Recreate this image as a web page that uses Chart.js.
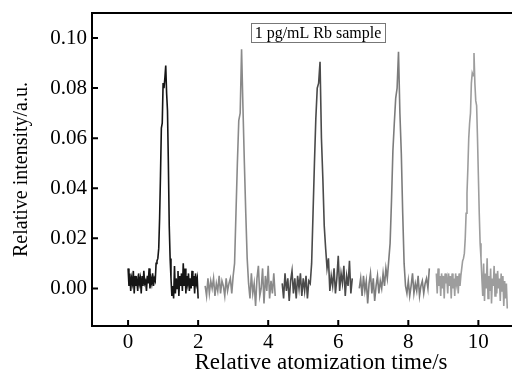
<!DOCTYPE html>
<html>
<head>
<meta charset="utf-8">
<script src="https://cdn.jsdelivr.net/npm/chart.js@4/dist/chart.umd.min.js"></script>
<style>
  body { margin: 0; background: #fff; }
  #wrap { position: relative; width: 512px; height: 376px; }
</style>
</head>
<body>
<div id="wrap"><canvas id="rbChart"></canvas></div>
<script>
// five successive atomization runs, each sampled on its own time grid
const segStart = [0, 2.2, 4.4, 6.6, 8.8];
const segStep = [0.025, 0.04, 0.04, 0.04, 0.025];
const segColors = ['#151515', '#8a8a8a', '#4a4a4a', '#7c7c7c', '#9d9d9d'];

const run1 = [
    0.008, 0.001, 0.006, -0.001, 0.004, 0.002, 0.007, -0.002, 0.005, 0.001,
    0.003, -0.001, 0.006, 0.002, 0.004, -0.002, 0.005, 0.001, 0.007, 0.002,
    0.003, -0.001, 0.005, 0.002, 0.008, 0.000, 0.004, 0.002, 0.006, 0.001,
    0.004, 0.003, 0.010, 0.011,
    0.012, 0.016, 0.028, 0.045, 0.064, 0.066, 0.082, 0.080, 0.084, 0.089,
    0.078, 0.071, 0.050, 0.025, 0.012, 0.004,
    -0.003, 0.001, -0.004, 0.009, -0.002, 0.004, 0.000, 0.007, -0.003, 0.005,
    0.001, 0.006, -0.001, 0.010, 0.001, 0.008, -0.002, 0.005, 0.002, 0.006,
    -0.001, 0.004, 0.000, 0.007, 0.001, 0.005, -0.002, 0.006, 0.002, 0.004, -0.004
];
const run2 = [
    0.001, -0.003, 0.004, -0.002, 0.003, 0.000, 0.004, -0.003, 0.002, -0.001,
    0.005, -0.002, 0.003, 0.001, -0.003, 0.004, -0.001, 0.002, 0.004, -0.002,
    0.005, 0.010, 0.030, 0.050, 0.067, 0.070, 0.0955, 0.072, 0.050, 0.030, 0.012, 0.002,
    -0.004, 0.006, -0.002, 0.002, -0.007, 0.004, 0.009, -0.003, 0.000, 0.008,
    -0.006, 0.005, -0.001, 0.009, -0.004, 0.003, -0.002, 0.006, -0.003
];
const run3 = [
    0.002, -0.004, 0.006, -0.001, 0.004, -0.005, 0.003, 0.007, -0.002, 0.004,
    -0.004, 0.005, 0.000, 0.006, -0.003, 0.004, -0.001, 0.005, -0.004, 0.003,
    0.002, 0.010, 0.030, 0.050, 0.068, 0.080, 0.082, 0.0905, 0.060, 0.044, 0.025, 0.016, 0.008,
    0.012, -0.001, 0.005, 0.001, 0.008, -0.002, 0.004, 0.013, -0.001, 0.006,
    0.002, 0.009, -0.003, 0.005, 0.001, 0.011, -0.002, 0.004
];
const run4 = [
    0.000, 0.004, -0.003, 0.005, -0.001, 0.003, -0.006, 0.002, 0.006, -0.002,
    0.004, -0.005, 0.001, 0.005, -0.002, 0.003, 0.000, 0.006, 0.001, 0.008,
    0.004, 0.011, 0.018, 0.035, 0.055, 0.066, 0.076, 0.080, 0.0945, 0.070, 0.054, 0.030, 0.010, 0.001,
    -0.002, 0.003, -0.003, 0.001, 0.006, -0.002, 0.002, -0.001, 0.005, -0.003,
    0.001, 0.003, -0.002, 0.002, 0.004, 0.000, 0.008
];
const run5 = [
    0.006, -0.002, 0.008, 0.001, 0.005, -0.003, 0.006, 0.000, 0.005, -0.004,
    0.006, 0.002, 0.004, -0.002, 0.006, 0.001, 0.005, -0.004, 0.006, 0.000,
    0.004, -0.003, 0.006, 0.002, 0.005, -0.002, 0.006, 0.001,
    0.005, 0.008, 0.011, 0.012, 0.014, 0.020, 0.030, 0.038, 0.048, 0.060,
    0.066, 0.070, 0.082, 0.086, 0.085, 0.094, 0.082, 0.075, 0.073, 0.060,
    0.045, 0.030, 0.018, 0.012, 0.004,
    -0.003, 0.010, -0.005, 0.006, 0.000, 0.012, -0.004, 0.005, -0.001, 0.008,
    -0.006, 0.004, 0.001, 0.009, -0.003, 0.006, -0.002, 0.007, 0.000, 0.004,
    -0.005, 0.006, -0.001, 0.005, -0.007, 0.003, -0.004, 0.002, -0.008
];
const runs = [run1, run2, run3, run4, run5];

const xTicks = [0, 2, 4, 6, 8, 10];
const yTicks = [0, 0.02, 0.04, 0.06, 0.08, 0.10];
const sampleLabel = '1 pg/mL Rb sample';
const xTitle = 'Relative atomization time/s';

const serif = "'Liberation Serif', 'Times New Roman', serif";

// axis frame: top line and inward tick marks, label box and x title
const framePlugin = {
    id: 'frame',
    afterDatasetsDraw(chart) {
        const ctx = chart.ctx;
        const a = chart.chartArea;
        const x = chart.scales.x;
        const y = chart.scales.y;
        ctx.save();
        ctx.strokeStyle = '#000';
        ctx.lineWidth = 2;
        ctx.beginPath();
        ctx.moveTo(a.left - 1, a.top);
        ctx.lineTo(a.right, a.top);
        x.ticks.forEach(t => {
            const px = x.getPixelForValue(t.value);
            ctx.moveTo(px, a.bottom);
            ctx.lineTo(px, a.bottom - 6);
        });
        y.ticks.forEach(t => {
            const py = y.getPixelForValue(t.value);
            ctx.moveTo(a.left, py);
            ctx.lineTo(a.left + 6, py);
        });
        ctx.stroke();

        // label box
        ctx.fillStyle = '#fff';
        ctx.fillRect(251, 23, 134, 19);
        ctx.strokeStyle = '#777';
        ctx.lineWidth = 1;
        ctx.strokeRect(251.5, 23.5, 134, 19);
        ctx.fillStyle = '#000';
        ctx.font = '16px ' + serif;
        ctx.textAlign = 'center';
        ctx.textBaseline = 'middle';
        ctx.fillText(sampleLabel, 318, 33.5);

        // x title sits a little right of the axis centre
        ctx.font = '23px ' + serif;
        ctx.fillText(xTitle, 321, 363);
        ctx.restore();
    }
};

const datasets = runs.map((vals, i) => ({
    data: vals.map((v, k) => ({ x: segStart[i] + k * segStep[i], y: v })),
    borderColor: segColors[i],
    borderWidth: 1.6,
    pointRadius: 0,
    tension: 0,
    fill: false
}));

const ctx = document.getElementById('rbChart').getContext('2d');
new Chart(ctx, {
    type: 'line',
    data: { datasets: datasets },
    options: {
        responsive: true,
        maintainAspectRatio: false,
        animation: false,
        layout: { padding: { top: 13, right: 0, left: 0, bottom: 0 } },
        plugins: {
            legend: { display: false },
            tooltip: { enabled: false }
        },
        scales: {
            x: {
                type: 'linear',
                min: -1.03,
                max: 10.96,
                afterBuildTicks: s => { s.ticks = xTicks.map(v => ({ value: v })); },
                afterFit: s => { s.height = 50; s.paddingLeft = 0; s.paddingRight = 0; },
                grid: { display: false, drawTicks: false },
                border: { display: true, color: '#000', width: 2 },
                ticks: {
                    color: '#000',
                    padding: 4,
                    maxRotation: 0,
                    font: { family: serif, size: 21 }
                },
                title: { display: false }
            },
            y: {
                min: -0.015,
                max: 0.11,
                afterBuildTicks: s => { s.ticks = yTicks.map(v => ({ value: v })); },
                afterFit: s => { s.width = 92; s.paddingTop = 0; s.paddingBottom = 0; },
                grid: { display: false, drawTicks: false },
                border: { display: true, color: '#000', width: 2 },
                ticks: {
                    color: '#000',
                    padding: 5,
                    font: { family: serif, size: 21 },
                    callback: v => v.toFixed(2)
                },
                title: {
                    display: true,
                    text: 'Relative intensity/a.u.',
                    color: '#000',
                    padding: { top: 10, bottom: 0 },
                    font: { family: serif, size: 20 }
                }
            }
        }
    },
    plugins: [framePlugin]
});
</script>
</body>
</html>
